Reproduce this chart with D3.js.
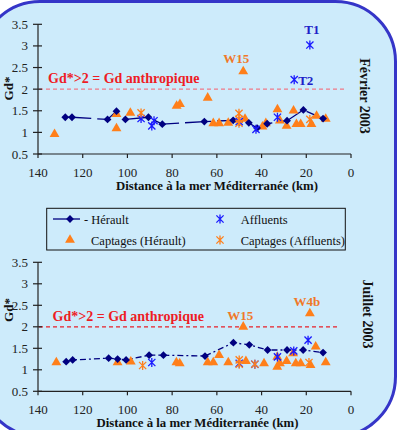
<!DOCTYPE html>
<html><head><meta charset="utf-8">
<script src="https://cdn.jsdelivr.net/npm/d3@7"></script>
<style>html,body{margin:0;padding:0;background:#fff;}svg{display:block;}</style>
</head><body>
<script>
// ---------- DATA ----------
const xTicks = [140,120,100,80,60,40,20,0];
const yTicks = [0.5,1,1.5,2,2.5,3,3.5];
const threshold = 2;
const thresholdLabel = "Gd*>2 = Gd anthropique";
const xTitleFeb = "Distance à la mer Méditerranée  (km)";
const xTitleJul = "Distance à la mer Méditerranée (km)";
const yTitle = "Gd*";
const panelTitles = ["Février 2003", "Juillet 2003"];
const legendLabels = ["- Hérault", "Affluents", "Captages (Hérault)", "Captages (Affluents)"];

// Février 2003
const febHeraultD = [127.8,124.8,108.9,104.9,100.9,90.6,84.4,65.6,52.7,45.7,42.0,37.5,28.6,21.3,12.5];
const febHeraultV = [1.35,1.35,1.30,1.49,1.30,1.35,1.19,1.25,1.28,1.22,1.10,1.20,1.27,1.52,1.32];
const febCaptHD = [132.6,104.9,104.9,98.7,78,76.5,64.1,61.6,59,54.9,48.2,47.4,39.6,38.1,32.9,31.8,28.8,25.7,24.4,22.5,17.7,15.4,11.3];
const febCaptHV = [0.96,1.42,1.09,1.45,1.61,1.65,1.80,1.21,1.21,1.22,2.41,1.31,1.13,1.21,1.53,1.27,1.15,1.50,1.19,1.19,1.19,1.38,1.31];
const febAfflD = [93.9,89.1,88.1,50,42.5,32.9,25.4,18.4];
const febAfflV = [1.32,1.15,1.27,1.25,1.07,1.35,2.22,3.02];
const febCaptAD = [93.9,50.1,50.1,50.1,18.4];
const febCaptAV = [1.45,1.44,1.30,1.21,1.30];
const febLabels = [
  {t:"T1", d:18.4, v:3.02, color:"blue", pos:"above"},
  {t:"T2", d:25.4, v:2.22, color:"blue", pos:"right"},
  {t:"W15", d:48.2, v:2.41, color:"orange", pos:"aboveLeft"}
];

// Juillet 2003
const julHeraultD = [127.4,124.5,108.4,104.4,100.6,90.3,83.9,65.3,52.6,45.5,37.3,28.6,21.4,12.5];
const julHeraultV = [1.19,1.23,1.27,1.25,1.23,1.34,1.34,1.32,1.63,1.58,1.46,1.46,1.46,1.40];
const julCaptHD = [131.8,104.4,98.5,78.1,76.6,64.1,61.6,59,54.9,48.2,47,38.9,33,33,31.8,28.8,25.9,24.7,22.5,18.1,18.4,15.8,11.3];
const julCaptHV = [1.17,1.17,1.19,1.17,1.15,1.17,1.17,1.34,1.17,2.0,1.2,1.15,1.07,1.30,1.15,1.2,1.38,1.15,1.15,1.11,2.31,1.54,1.17];
const julAfflD = [89.1,50,43,32.9,25.6,19.2];
const julAfflV = [1.17,1.15,1.13,1.30,1.44,1.69];
const julCaptAD = [93.2,50,50,43,18.8];
const julCaptAV = [1.10,1.23,1.13,1.13,1.17];
const julLabels = [
  {t:"W15", d:48.2, v:2.0, color:"orange", pos:"aboveSmall"},
  {t:"W4b", d:18.4, v:2.31, color:"orange", pos:"aboveSmall"}
];

// ---------- STYLE ----------
const W = 397, H = 430;
const BG = "#cdebfb";
const NAVY = "#000080";
const ORANGE = "#ff7f1a";
const BLUE = "#1a1aff";
const LABEL_BLUE = "#2020c8";
const LABEL_ORANGE = "#f07828";
const RED = "#ee1c25";
const FONT = "'Liberation Serif','Times New Roman',serif";

const svg = d3.select("body").append("svg").attr("width", W).attr("height", H);

// background + rounded border
svg.append("rect").attr("x",0).attr("y",0).attr("width",W).attr("height",H).attr("fill","#fff");
svg.append("rect").attr("x",-20).attr("y",1.5).attr("width",415.5).attr("height",435)
  .attr("rx",60).attr("ry",60).attr("fill",BG).attr("stroke","#3535c8").attr("stroke-width",3);

const x = d3.scaleLinear().domain([140,0]).range([38,351]);

function zip(D,V){ return D.map((d,i)=>({d:d, v:V[i]})); }

function asteriskPath(r){
  return `M${-r},${-r}L${r},${r}M${-r},${r}L${r},${-r}M0,${-r*1.25}L0,${r*1.25}`;
}
function diamondPath(r){ return `M0,${-r}L${r},0L0,${r}L${-r},0Z`; }
const triPath = d3.symbol().type(d3.symbolTriangle).size(42)();

function panel(cfg){
  const y = d3.scaleLinear().domain([0.5,3.5]).range([cfg.y0, cfg.y1]);
  const g = svg.append("g");

  // threshold line
  g.append("line").attr("x1",x(140)+1).attr("x2",cfg.thrEnd)
    .attr("y1",y(threshold)).attr("y2",y(threshold))
    .attr("stroke",cfg.thrColor).attr("stroke-width",1.2).attr("stroke-dasharray",cfg.thrDash);
  g.append("text").attr("x",cfg.thrLabelX).attr("y",y(threshold)-6)
    .attr("font-family",FONT).attr("font-weight","bold").attr("font-size",14)
    .attr("fill",RED).text(thresholdLabel);

  // axes
  const axisColor = "#222";
  g.append("line").attr("x1",x(140)).attr("x2",x(0)).attr("y1",y(0.5)).attr("y2",y(0.5))
    .attr("stroke",axisColor).attr("stroke-width",1.2);
  g.append("line").attr("x1",x(140)).attr("x2",x(140)).attr("y1",y(0.5)).attr("y2",y(3.5))
    .attr("stroke",axisColor).attr("stroke-width",1.2);
  xTicks.forEach(t=>{
    g.append("line").attr("x1",x(t)).attr("x2",x(t)).attr("y1",y(0.5)).attr("y2",y(0.5)+4)
      .attr("stroke",axisColor).attr("stroke-width",1.2);
    g.append("text").attr("x",x(t)).attr("y",y(0.5)+23).attr("text-anchor","middle")
      .attr("font-family",FONT).attr("font-size",13).attr("fill","#222").text(t);
  });
  yTicks.forEach(t=>{
    g.append("line").attr("x1",x(140)-5).attr("x2",x(140)+4).attr("y1",y(t)).attr("y2",y(t))
      .attr("stroke",axisColor).attr("stroke-width",1.2);
    g.append("text").attr("x",28).attr("y",y(t)+4.5).attr("text-anchor","end")
      .attr("font-family",FONT).attr("font-size",13).attr("fill","#222").text(t);
  });
  g.append("text").attr("transform",`translate(13,${cfg.yTitleY}) rotate(-90)`)
    .attr("text-anchor","middle").attr("font-family",FONT).attr("font-weight","bold")
    .attr("font-size",13).attr("fill","#111").text(yTitle);
  g.append("text").attr("x",cfg.xTitleX).attr("y",y(0.5)+35.5).attr("text-anchor","middle")
    .attr("font-family",FONT).attr("font-weight","bold").attr("font-size",12.8).attr("fill","#111")
    .text(cfg.xTitle);
  g.append("text").attr("transform",`translate(${cfg.titleX},${cfg.titleY}) rotate(90)`)
    .attr("text-anchor","middle").attr("font-family",FONT).attr("font-weight","bold")
    .attr("font-size",14).attr("fill","#111").text(cfg.title);

  // Hérault line
  const hd = zip(cfg.hD, cfg.hV);
  g.append("path").datum(hd)
    .attr("d", d3.line().x(p=>x(p.d)).y(p=>y(p.v)))
    .attr("fill","none").attr("stroke",NAVY).attr("stroke-width",1.3)
    .attr("stroke-dasharray",cfg.lineDash);

  // captages Hérault triangles
  g.selectAll(".tri").data(zip(cfg.chD,cfg.chV)).join("path")
    .attr("d",triPath).attr("transform",p=>`translate(${x(p.d)},${y(p.v)})`)
    .attr("fill",ORANGE);
  // Hérault diamonds
  g.selectAll(".dia").data(hd).join("path")
    .attr("d",diamondPath(3.9)).attr("transform",p=>`translate(${x(p.d)},${y(p.v)})`)
    .attr("fill",NAVY);
  // affluents
  g.selectAll(".aff").data(zip(cfg.aD,cfg.aV)).join("path")
    .attr("d",asteriskPath(3.6)).attr("transform",p=>`translate(${x(p.d)},${y(p.v)})`)
    .attr("fill","none").attr("stroke",BLUE).attr("stroke-width",1.3);
  // captages affluents
  g.selectAll(".caff").data(zip(cfg.caD,cfg.caV)).join("path")
    .attr("d",asteriskPath(3.6)).attr("transform",p=>`translate(${x(p.d)},${y(p.v)})`)
    .attr("fill","none").attr("stroke",ORANGE).attr("stroke-width",1.3);

  // labels
  cfg.labels.forEach(l=>{
    let tx = x(l.d), ty = y(l.v), anchor="middle";
    if(l.pos==="above"){ ty -= 11; tx += 2; }
    else if(l.pos==="right"){ tx += 4; ty += 5; anchor="start"; }
    else if(l.pos==="aboveLeft"){ tx -= 7; ty -= 8; }
    else if(l.pos==="aboveSmall"){ tx -= 3; ty -= 7; }
    g.append("text").attr("x",tx).attr("y",ty).attr("text-anchor",anchor)
      .attr("font-family",FONT).attr("font-weight","bold").attr("font-size",13)
      .attr("fill", l.color==="blue"?LABEL_BLUE:LABEL_ORANGE).text(l.t);
  });
}

panel({y0:154, y1:24.3, hD:febHeraultD, hV:febHeraultV, chD:febCaptHD, chV:febCaptHV,
  aD:febAfflD, aV:febAfflV, caD:febCaptAD, caV:febCaptAV, labels:febLabels,
  lineDash:"26,6", thrColor:"#f07a88", thrDash:"4,3", thrEnd:347, thrLabelX:48,
  xTitle:xTitleFeb, xTitleX:217, title:panelTitles[0], titleX:360, titleY:96, yTitleY:88.5});

panel({y0:391.3, y1:262.3, hD:julHeraultD, hV:julHeraultV, chD:julCaptHD, chV:julCaptHV,
  aD:julAfflD, aV:julAfflV, caD:julCaptAD, caV:julCaptAV, labels:julLabels,
  lineDash:"6,3,2,3", thrColor:"#e8202a", thrDash:"4,3", thrEnd:339, thrLabelX:52.5,
  xTitle:xTitleJul, xTitleX:197.5, title:panelTitles[1], titleX:363, titleY:314, yTitleY:310});

// legend
const lg = svg.append("g");
lg.append("rect").attr("x",46.7).attr("y",208.3).attr("width",298.6).attr("height",41.7)
  .attr("fill","none").attr("stroke","#111").attr("stroke-width",1);
const r1 = 219, r2 = 240;
lg.append("line").attr("x1",53).attr("x2",80).attr("y1",r1).attr("y2",r1).attr("stroke",NAVY).attr("stroke-width",1.3);
lg.append("path").attr("d",diamondPath(3.9)).attr("transform",`translate(70,${r1})`).attr("fill",NAVY);
lg.append("path").attr("d",triPath).attr("transform",`translate(70,${r2})`).attr("fill",ORANGE);
lg.append("path").attr("d",asteriskPath(3.6)).attr("transform",`translate(220,${r1})`).attr("fill","none").attr("stroke",BLUE).attr("stroke-width",1.3);
lg.append("path").attr("d",asteriskPath(3.6)).attr("transform",`translate(220,${r2})`).attr("fill","none").attr("stroke",ORANGE).attr("stroke-width",1.3);
const lt = [[84,r1,legendLabels[0]],[240.7,r1,legendLabels[1]],[91,r2,legendLabels[2]],[240.7,r2,legendLabels[3]]];
lt.forEach(a=>{
  lg.append("text").attr("x",a[0]).attr("y",a[1]+4.5).attr("font-family",FONT).attr("font-size",12.5)
    .attr("fill","#111").text(a[2]);
});
</script>
</body></html>
